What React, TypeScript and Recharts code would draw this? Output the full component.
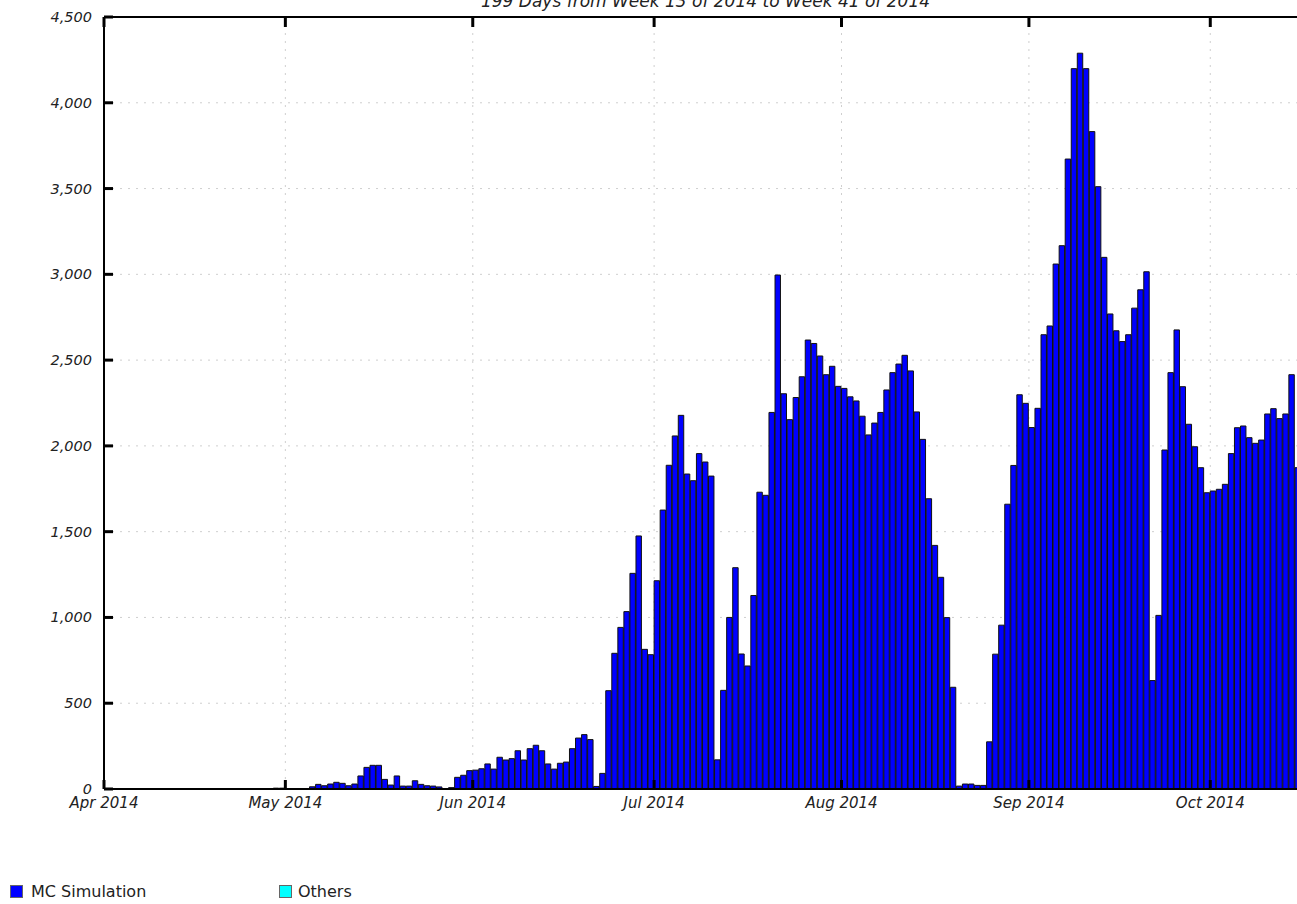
import React from 'react';
import { BarChart, Bar, XAxis, YAxis, CartesianGrid } from 'recharts';

// day 0 = 1 Apr 2014, 199 days
const MONTH_START_DAYS = [0, 30, 61, 91, 122, 153, 183];
const MONTH_LABELS = ['Apr 2014', 'May 2014', 'Jun 2014', 'Jul 2014', 'Aug 2014', 'Sep 2014', 'Oct 2014'];
const Y_TICKS = [0, 500, 1000, 1500, 2000, 2500, 3000, 3500, 4000, 4500];
const DAY_COUNT = 199;

const MC_VALUES = [
  0, 0, 0, 0, 0, 0, 0, 0, 0, 0,
  0, 0, 0, 0, 0, 0, 0, 0, 0, 0,
  0, 0, 0, 0, 0, 0, 0, 0, 5, 5,
  0, 0, 0, 0, 13, 27, 19, 29, 39, 33,
  19, 29, 76, 126, 138, 138, 56, 23, 76, 17,
  17, 48, 27, 19, 17, 12, 2, 8, 68, 80,
  107, 110, 118, 146, 116, 185, 169, 177, 223, 169,
  235, 255, 223, 146, 116, 150, 157, 235, 297, 317,
  288, 15, 91, 573, 791, 942, 1034, 1257, 1475, 814,
  783, 1214, 1626, 1887, 2058, 2178, 1836, 1797, 1955, 1906,
  1824, 170, 575, 1000, 1290, 787, 717, 1128, 1730, 1712,
  2195, 2996, 2304, 2153, 2282, 2403, 2617, 2597, 2524, 2415,
  2464, 2347, 2335, 2286, 2262, 2173, 2064, 2133, 2195, 2326,
  2427, 2477, 2528, 2437, 2198, 2038, 1692, 1420, 1234, 999,
  593, 17, 29, 29, 21, 21, 275, 786, 955, 1660,
  1886, 2298, 2248, 2107, 2219, 2648, 2699, 3060, 3167, 3672,
  4199, 4289, 4199, 3832, 3511, 3099, 2769, 2671, 2608, 2648,
  2803, 2910, 3015, 632, 1012, 1976, 2427, 2676, 2345, 2126,
  1995, 1873, 1727, 1737, 1747, 1776, 1955, 2106, 2116, 2048,
  2015, 2034, 2186, 2217, 2159, 2186, 2415, 1873, 1800,
];

const OTHERS_VALUES = [
  0, 0, 0, 0, 0, 0, 0, 0, 0, 0,
  0, 0, 0, 0, 0, 0, 0, 0, 0, 0,
  0, 0, 0, 0, 0, 0, 0, 0, 0, 0,
  0, 0, 0, 0, 0, 0, 0, 0, 0, 0,
  0, 0, 0, 0, 0, 0, 0, 0, 0, 0,
  0, 0, 0, 0, 0, 0, 0, 0, 0, 0,
  0, 0, 0, 0, 0, 0, 0, 0, 0, 0,
  0, 0, 0, 0, 0, 0, 0, 0, 0, 0,
  0, 0, 0, 0, 0, 0, 0, 0, 0, 0,
  0, 0, 0, 0, 0, 0, 0, 0, 0, 0,
  0, 0, 0, 0, 0, 0, 0, 0, 0, 0,
  0, 0, 0, 0, 0, 0, 0, 0, 0, 0,
  0, 0, 0, 0, 0, 0, 0, 0, 0, 0,
  0, 0, 0, 0, 0, 0, 0, 0, 0, 0,
  0, 0, 0, 0, 0, 0, 0, 0, 0, 0,
  0, 0, 0, 0, 0, 0, 0, 0, 0, 0,
  0, 0, 0, 0, 0, 0, 0, 0, 0, 0,
  0, 0, 0, 0, 0, 0, 0, 0, 0, 0,
  0, 0, 0, 0, 0, 0, 0, 0, 0, 0,
  0, 0, 0, 0, 0, 0, 0, 0, 0,
];

const data = MC_VALUES.map((v, i) => ({ day: i + 0.5, mc: v, others: OTHERS_VALUES[i] }));

const CHART_W = 1317;
const CHART_H = 904;
const Y_AXIS_W = 104;
const MARGIN = { top: 16, right: 10, bottom: 85, left: 0 };
const PLOT_W = CHART_W - Y_AXIS_W - MARGIN.right;
const BAR_W = PLOT_W / DAY_COUNT;
const FONT = '"DejaVu Sans", Verdana, sans-serif';

const BottomTick = (props: any) => {
  const { x, y, payload } = props;
  const label = MONTH_LABELS[MONTH_START_DAYS.indexOf(payload.value)];
  return (
    <g>
      <line x1={x} x2={x} y1={y} y2={y - 9} stroke="#000" strokeWidth={3} />
      <text x={x} y={y + 19} textAnchor="middle" fontFamily={FONT} fontStyle="italic" fontSize={15} fill="#222">
        {label}
      </text>
    </g>
  );
};

const TopTick = (props: any) => {
  const { x, y } = props;
  return <line x1={x} x2={x} y1={y} y2={y + 10} stroke="#000" strokeWidth={3} />;
};

const LeftTick = (props: any) => {
  const { x, y, payload } = props;
  return (
    <g>
      <line x1={x} x2={x + 9} y1={y} y2={y} stroke="#000" strokeWidth={3} />
      <text x={x - 12} y={y + 5} textAnchor="end" fontFamily={FONT} fontStyle="italic" fontSize={14.5} fill="#222">
        {payload.value.toLocaleString('en-US')}
      </text>
    </g>
  );
};

export default function App() {
  return (
    <div style={{ position: 'fixed', left: 0, top: 0, width: 1297, height: 904, overflow: 'hidden', background: '#fff' }}>
      <BarChart width={CHART_W} height={CHART_H} data={data} margin={MARGIN} barCategoryGap={0} barGap={0}>
        <CartesianGrid xAxisId="bottom" stroke="#cfcfcf" strokeDasharray="2 6" />
        <XAxis
          xAxisId="bottom"
          dataKey="day"
          type="number"
          domain={[0, DAY_COUNT]}
          ticks={MONTH_START_DAYS}
          height={30}
          tickSize={0}
          tickMargin={0}
          tickLine={false}
          axisLine={{ stroke: '#000', strokeWidth: 2 }}
          tick={<BottomTick />}
          interval={0}
          allowDataOverflow
        />
        <XAxis
          xAxisId="top"
          orientation="top"
          dataKey="day"
          type="number"
          domain={[0, DAY_COUNT]}
          ticks={MONTH_START_DAYS}
          height={1}
          tickSize={0}
          tickMargin={0}
          tickLine={false}
          axisLine={{ stroke: '#000', strokeWidth: 2 }}
          tick={<TopTick />}
          interval={0}
          allowDataOverflow
        />
        <YAxis
          type="number"
          domain={[0, 4500]}
          ticks={Y_TICKS}
          width={Y_AXIS_W}
          tickSize={0}
          tickMargin={0}
          tickLine={false}
          axisLine={{ stroke: '#000', strokeWidth: 2 }}
          tick={<LeftTick />}
          interval={0}
        />
        <Bar xAxisId="bottom" dataKey="mc" stackId="s" fill="#0000ff" stroke="#111" strokeWidth={1} barSize={BAR_W} isAnimationActive={false} />
        <Bar xAxisId="bottom" dataKey="others" stackId="s" fill="#00ffff" stroke="#111" strokeWidth={1} barSize={BAR_W} isAnimationActive={false} />
      </BarChart>
      <svg width={1297} height={904} style={{ position: 'absolute', left: 0, top: 0, pointerEvents: 'none' }}>
        <text x={Y_AXIS_W + PLOT_W / 2} y={6.5} textAnchor="middle" fontFamily={FONT} fontStyle="italic" fontSize={17} fill="#222">
          199 Days from Week 13 of 2014 to Week 41 of 2014
        </text>
        <rect x={10.5} y={885.5} width={12} height={12} fill="#0000ff" stroke="#666" strokeWidth={1} />
        <text x={31} y={897} fontFamily={FONT} fontSize={16} fill="#222">MC Simulation</text>
        <rect x={279.5} y={885.5} width={12} height={12} fill="#00ffff" stroke="#666" strokeWidth={1} />
        <text x={298} y={897} fontFamily={FONT} fontSize={16} fill="#222">Others</text>
      </svg>
    </div>
  );
}
